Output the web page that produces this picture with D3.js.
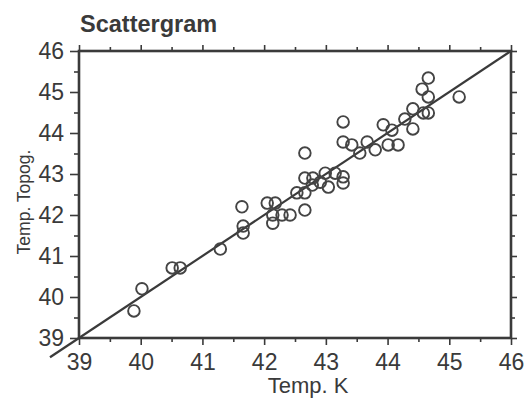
<!DOCTYPE html>
<html>
<head>
<meta charset="utf-8">
<script src="https://cdn.jsdelivr.net/npm/d3@7"></script>
<style>
  body { margin: 0; background: #fff; }
  text { font-family: "Liberation Sans", Arial, sans-serif; fill: #3a3a3a; }
</style>
</head>
<body>
<script>
"use strict";
const title = "Scattergram";
const xLabel = "Temp. K";
const yLabel = "Temp. Topog.";
const tempK = [39.89, 40.02, 40.51, 40.64, 41.29, 41.64, 41.66, 41.66, 42.05, 42.18, 42.14, 42.29, 42.42, 42.14,
	42.53, 42.66, 42.66, 42.66, 42.79, 42.99, 43.15, 43.28, 43.28, 43.04, 42.91, 42.78, 42.66, 43.28, 43.28,
	43.42, 43.67, 43.55, 43.8, 43.93, 44.07, 44.01, 44.17, 44.28, 44.41, 44.41, 44.58, 44.66, 44.56, 44.66, 44.66, 45.16];
const tempTopog = [39.66, 40.2, 40.71, 40.71, 41.17, 42.2, 41.73, 41.56, 42.29, 42.29, 42.0, 42.0, 42.0, 41.8,
	42.54, 42.54, 42.12, 42.9, 42.9, 43.02, 43.02, 42.93, 42.78, 42.68, 42.8, 42.73, 43.51, 44.27, 43.78,
	43.71, 43.78, 43.51, 43.59, 44.2, 44.07, 43.71, 43.71, 44.34, 44.59, 44.1, 44.49, 44.49, 45.07, 45.34, 44.88, 44.88];
const majorTicks = [39, 40, 41, 42, 43, 44, 45, 46];
const minorTicks = [39.5, 40.5, 41.5, 42.5, 43.5, 44.5, 45.5];
const fitLine = [38.53, 46];

const w = 527;
const h = 398;
const pLeft = 79, pRight = 511, pTop = 51, pBottom = 338;
const ink = "#3a3a3a";

const x = d3.scaleLinear().domain([39, 46]).range([pLeft, pRight]);
const y = d3.scaleLinear().domain([39, 46]).range([pBottom, pTop]);

const svg = d3.select("body").append("svg").attr("width", w).attr("height", h);

function styleAxis(g, labels) {
	g.select(".domain").remove();
	g.selectAll(".tick line").attr("stroke", ink).attr("stroke-width", 1.6);
	g.selectAll(".tick text").attr("font-size", 23).attr("fill", ink);
	if (!labels) g.selectAll(".tick text").remove();
}

// bottom
svg.append("g").attr("transform", "translate(0," + pBottom + ")")
	.call(d3.axisBottom(x).tickValues(majorTicks).tickSize(7).tickPadding(9).tickFormat(d3.format("d")))
	.call(g => styleAxis(g, true));
svg.append("g").attr("transform", "translate(0," + pBottom + ")")
	.call(d3.axisBottom(x).tickValues(minorTicks).tickSize(4)).call(g => styleAxis(g, false));
// top
svg.append("g").attr("transform", "translate(0," + pTop + ")")
	.call(d3.axisTop(x).tickValues(majorTicks).tickSize(6)).call(g => styleAxis(g, false));
svg.append("g").attr("transform", "translate(0," + pTop + ")")
	.call(d3.axisTop(x).tickValues(minorTicks).tickSize(4)).call(g => styleAxis(g, false));
// left
svg.append("g").attr("transform", "translate(" + pLeft + ",0)")
	.call(d3.axisLeft(y).tickValues(majorTicks).tickSize(9).tickPadding(6).tickFormat(d3.format("d")))
	.call(g => styleAxis(g, true));
svg.append("g").attr("transform", "translate(" + pLeft + ",0)")
	.call(d3.axisLeft(y).tickValues(minorTicks).tickSize(5)).call(g => styleAxis(g, false));
// right
svg.append("g").attr("transform", "translate(" + pRight + ",0)")
	.call(d3.axisRight(y).tickValues(majorTicks).tickSize(6)).call(g => styleAxis(g, false));
svg.append("g").attr("transform", "translate(" + pRight + ",0)")
	.call(d3.axisRight(y).tickValues(minorTicks).tickSize(4)).call(g => styleAxis(g, false));

// frame
svg.append("rect").attr("x", pLeft).attr("y", pTop).attr("width", pRight - pLeft).attr("height", pBottom - pTop)
	.attr("fill", "none").attr("stroke", ink).attr("stroke-width", 2.6);

// identity line
svg.append("line")
	.attr("x1", x(fitLine[0])).attr("y1", y(fitLine[0]))
	.attr("x2", x(fitLine[1])).attr("y2", y(fitLine[1]))
	.attr("stroke", ink).attr("stroke-width", 2.2);

// points
svg.append("g").selectAll("circle").data(tempK).enter().append("circle")
	.attr("cx", d => x(d))
	.attr("cy", (d, i) => y(tempTopog[i]))
	.attr("r", 5.8)
	.attr("fill", "none")
	.attr("stroke", "#444")
	.attr("stroke-width", 1.9);

svg.append("text").attr("x", 80).attr("y", 32).attr("font-size", 23.5).attr("font-weight", "bold")
	.attr("fill", "#333").text(title);
svg.append("text").attr("x", 308).attr("y", 393).attr("text-anchor", "middle").attr("font-size", 22)
	.attr("fill", ink).text(xLabel);
svg.append("text").attr("transform", "translate(30,202) rotate(-90)").attr("text-anchor", "middle")
	.attr("font-size", 17.5).attr("fill", ink).text(yLabel);
</script>
</body>
</html>
